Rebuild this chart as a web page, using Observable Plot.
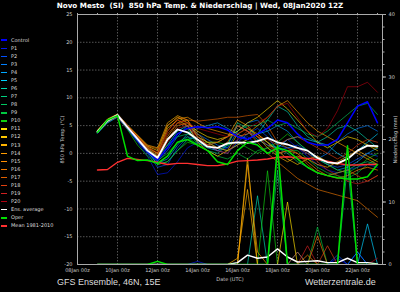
<!DOCTYPE html>
<html><head><meta charset="utf-8">
<script src="https://cdn.jsdelivr.net/npm/d3@7"></script>
<script src="https://cdn.jsdelivr.net/npm/@observablehq/plot@0.6"></script>
<style>
html,body{margin:0;padding:0;background:#000;}
#wrap{position:relative;width:400px;height:292px;background:#000;overflow:hidden;font-family:"DejaVu Sans",sans-serif;}
#chart{position:absolute;left:0;top:0;}
#title{position:absolute;left:0;width:400px;top:1.5px;line-height:8px;text-align:center;color:#fff;font-weight:bold;font-size:7.2px;white-space:pre;}
.li{position:absolute;left:1px;height:8px;line-height:8px;font-size:5px;color:#ddd;white-space:nowrap;}
.li span{display:inline-block;width:6px;height:1.4px;vertical-align:middle;margin-right:4px;}
.foot{position:absolute;top:277px;line-height:10px;font-family:"Liberation Sans",Arial,sans-serif;font-size:9px;color:#ddd;white-space:nowrap;}
</style></head>
<body>
<div id="wrap">
  <div id="chart"></div>
  <div id="title">Novo Mesto  (SI)  850 hPa Temp. &amp; Niederschlag | Wed, 08Jan2020 12Z</div>
  <div id="legend"></div>
  <div class="foot" style="left:57px">GFS Ensemble, 46N, 15E</div>
  <div class="foot" style="left:305px">Wetterzentrale.de</div>
</div>
<script>
// ---- data (12-hourly, 08Jan 18z .. 23Jan 06z) ----
const memberNames = ["Control","P1","P2","P3","P4","P5","P6","P7","P8","P9","P10",
  "P11","P12","P13","P14","P15","P16","P17","P18","P19","P20"];
const memberColors = ["#0000ff","#0018f0","#0050ff","#0080ff","#00a8ff","#00d0ff","#00d8b0","#00d080","#00c860","#00c840","#10d010",
  "#ffe000","#ffc800","#ffb400","#ff9c00","#ff8c00","#f07800","#e06000","#e04010","#d02020","#b00010"];
const extraNames = ["Ens. average","Oper","Mean 1981-2010"];
const extraColors = ["#ffffff","#00e000","#ff3030"];

const memberTemp = [
 [3.9,5.9,6.9,4.7,2.5,0.3,-1.2,1.0,3.5,4.5, 4.8,4.6,4.8,4.2,3.0,2.5,3.5,4.5,6.0,5.5, 3.5,2.0,1.5,1.5,2.5,5.5,8.5,9.3,5.5,2.0],
 [3.7,5.6,6.6,4.4,2.0,-0.5,-3.8,-3.5,-1.5,1.0, 2.0,1.5,0.5,1.0,2.5,3.0,1.5,0.0,1.0,2.5, 1.0,-0.5,-2.0,-3.0,-3.5,-3.0,-2.5,-2.0,-2.5,-3.0],
 [3.8,5.7,6.7,4.5,2.2,0.0,-2.5,-2.0,1.0,3.0, 2.5,1.5,0.5,0.0,2.0,3.5,4.5,3.0,0.5,1.0, 1.5,0.5,-1.0,-2.0,-2.5,-2.0,-1.0,0.0,-0.5,-1.0],
 [4.0,5.9,6.8,4.6,2.6,0.5,-1.5,0.5,3.0,5.0, 3.5,2.5,1.5,1.0,4.0,5.5,6.0,4.0,1.5,1.0, 1.0,0.0,-1.0,0.0,2.0,3.5,4.5,5.0,4.0,2.5],
 [3.6,5.5,6.5,4.3,2.3,0.2,-1.8,-1.0,1.5,3.5, 4.5,5.0,5.5,4.5,3.5,2.5,3.5,4.0,5.0,4.0, 2.0,0.5,-1.0,-2.0,-3.0,-2.5,-1.5,0.0,1.0,0.5],
 [3.9,5.8,6.9,4.8,2.9,0.9,-0.8,1.5,4.0,5.0, 2.0,1.0,0.5,1.5,5.0,4.0,2.5,1.5,1.0,2.5, 3.0,2.5,2.0,1.5,0.0,-1.0,0.5,2.0,3.5,2.0],
 [3.7,5.6,6.6,4.5,2.5,0.4,-2.0,-1.5,0.5,2.5, 3.0,2.0,1.0,0.5,1.5,2.5,3.5,6.0,8.5,7.5, 5.0,3.0,2.0,3.0,4.5,5.0,4.0,2.5,1.0,0.0],
 [3.8,5.7,6.8,4.6,2.4,0.2,-1.0,1.0,3.5,4.5, 1.5,0.5,0.0,1.5,5.5,4.5,3.0,2.0,1.0,0.0, -1.5,-2.5,-3.5,-4.0,-3.5,-3.0,-2.0,-1.5,-2.0,-2.5],
 [4.0,6.0,7.0,4.9,3.0,1.0,-0.5,1.5,3.0,3.5, 2.5,1.5,2.0,3.0,4.0,5.0,5.0,6.0,5.0,5.5, 4.5,3.5,3.0,4.0,5.5,7.0,8.5,9.0,7.0,4.0],
 [3.8,5.8,6.8,4.7,2.7,0.7,-1.3,0.0,2.0,3.0, 1.5,0.5,-0.5,-1.0,0.0,-1.0,0.5,1.0,0.0,0.5, 0.5,-1.0,-2.5,-3.5,-4.0,-4.5,-3.5,-2.0,-1.0,-1.5],
 [3.9,5.9,6.9,4.3,1.5,-0.5,-2.0,-1.5,0.5,2.0, 1.5,2.0,2.0,1.5,2.0,1.0,0.0,1.0,2.0,3.5, 2.0,0.5,-1.0,-2.0,-3.0,-3.5,-2.5,-1.0,0.0,1.0],
 [4.1,6.1,7.0,5.0,3.2,1.3,0.5,5.0,6.5,5.5, 4.0,3.0,2.5,3.0,4.0,5.5,6.5,8.0,9.5,8.0, 6.0,4.0,2.0,1.0,2.0,3.0,2.5,1.5,0.5,-0.5],
 [4.0,6.0,7.0,4.9,3.1,1.2,0.0,4.5,6.0,5.0, 2.0,0.5,-0.5,0.5,3.5,4.5,3.5,2.0,0.5,-1.0, -2.0,-1.0,-0.5,-1.5,-2.0,-1.0,0.5,1.5,1.0,0.0],
 [4.2,6.2,7.1,5.1,3.3,1.5,1.0,5.5,6.8,6.0, 3.0,2.0,2.0,3.0,6.0,5.0,3.0,1.0,-0.5,-1.5, -0.5,-1.0,-2.0,-2.5,-1.5,-0.5,0.5,-0.5,-1.5,-2.0],
 [4.0,6.0,6.9,4.8,3.0,1.0,0.0,4.0,6.2,6.5, 5.5,4.5,4.0,3.5,3.0,3.5,5.0,6.5,8.5,9.5, 7.5,5.5,4.0,3.0,2.0,1.0,0.0,-1.0,-2.0,-1.5],
 [3.9,5.9,6.8,4.7,2.8,0.8,-0.5,3.0,5.5,6.0, 3.5,2.0,1.0,0.5,1.5,2.5,3.5,2.0,0.0,0.5, 0.0,-1.5,-3.0,-4.0,-4.5,-4.0,-3.0,-2.5,-3.0,-3.5],
 [3.8,5.8,6.7,4.6,2.7,0.6,-0.8,2.5,5.0,5.5, 3.0,1.5,1.0,2.0,5.0,4.0,2.0,0.0,-1.5,-3.0, -4.5,-5.5,-6.5,-7.0,-7.5,-8.0,-8.5,-10.0,-11.5,-12.5],
 [4.1,6.1,7.0,5.0,3.2,1.4,0.8,5.0,6.5,6.0, 5.8,6.0,6.2,6.5,6.5,6.8,7.0,5.0,2.0,1.0, 0.0,-2.0,-3.5,-4.0,-3.5,-3.0,-4.0,-5.0,-4.0,-3.0],
 [3.9,5.9,6.8,4.8,2.9,0.9,-0.3,3.5,5.5,5.0, 2.5,1.5,2.0,3.0,5.0,4.0,3.0,2.5,1.5,2.5, 3.0,2.0,1.0,0.0,-1.0,0.0,1.5,2.5,2.0,1.0],
 [3.7,5.7,6.6,4.5,2.5,0.5,-1.0,2.0,4.5,5.0, 3.0,1.5,0.5,0.0,2.5,4.0,3.0,1.5,0.0,0.5, 1.0,0.0,-1.5,-3.0,-4.0,-5.0,-5.5,-5.0,-4.0,-3.0],
 [4.0,6.0,6.9,4.9,3.0,1.1,0.2,4.0,6.0,5.5, 4.5,4.0,3.5,3.0,3.5,4.5,5.5,6.5,8.5,9.0, 6.5,4.0,3.0,4.5,7.7,12.0,12.0,12.8,11.0,7.0]
];
const memberPrecip = [
 [0,0,0,0,0,0,0,0,0,0, 0,0,0,0,0,0,0,0,0,0, 0,0,0,0,1,0,2,0,0,0],
 [0,0,0,0,0,0,0,0,0,0, 0.5,0,0,0,0,0,0,0,0,0, 0,0,0,0,0,0,0,0,0,0],
 [0,0,0,0,0,0,0,0,0,0, 0,0,0,0,0,0,0,0,0,0, 0,0,0,0,1.5,0,0,0,0,0],
 [0,0,0,0,0,0,0,0,0,0, 0,0,0,0,0,0,0,0,0,0, 2,0,0,0,0,0,0,0,0,0],
 [0,0,0,0,0,0,0,0,0,0, 0,0,0,0,0,0,0,0,0,0, 0,0,0,0,0,0,2,0,0,0],
 [0,0,0,0,0,0,0,0,0,0, 0,0,0,0,0,0,0,0,0,0, 0,0,0,0,0,0,0,6.5,0,0],
 [0,0,0,0,0,0,0,0,0,0, 0,0,0,0,0,0,11,0,0,0, 0,0,0,0,0,0,0,0,0,0],
 [0,0,0,0,0,0,0,0,0,0, 0,0,0,0,0,0,0,0,0,0, 0,0,0,0,0,16,0,0,0,0],
 [0,0,0,0,0,0,0,0,0,0, 0,0,0,0,0,0,0,0,15,0, 0,0,0,0,0,0,0,0,0,0],
 [0,0,0,0,0,0,0,0,0,0, 0,0,0,0,0,0,0,0,18,0, 0,0,6,0,0,0,0,0,0,0],
 [0,0,0,0,0,0,0,0,0,0, 0,0,0,0,0,0,0,15,0,0, 0,0,0,0,0,0,0,0,0,0],
 [0,0,0,0,0,0,0,0,0,0, 0,0,0,0,0,0,0,0,0,10, 0,0,0,0,0,0,0,0,0,0],
 [0,0,0,0,0,0,0,0,0,0, 0,0,0,0,0,17,0,0,0,0, 0,0,0,0,0,0,0,0,0,0],
 [0,0,0,0,0,0,0,0,0,0, 0,0,0,0,1,12,0,0,0,0, 0,0,0,0,0,0,0,0,0,0],
 [0,0,0,0,0,0,0,0,0,0, 0,0,0,0,0,16,2,0,0,0, 0,0,0,0,0,0,0,0,0,0],
 [0,0,0,0,0,0,0,0,0,0, 0,0,0,0,0,0,0,0,0,0, 0,1.5,0,0,0,0,0,0,0,0],
 [0,0,0,0,0,0,0,0,0,0, 0,0,0,0,0,0,0,0,0,0, 0,0,4.6,0,0,0,0,0,0,0],
 [0,0,0,0,0,0,0,0,0,0, 0,0,0,0,0,0,0,0,0,0, 2,0,0,0,0,0,0,0,0,0],
 [0,0,0,0,0,0,0,0,0,0, 0,0,0,0,0,0,0,0,0,0, 0,0,0,3,0,0,0,0,0,0],
 [0,0,0,0,0,0,0,0,0,0, 0,0,0,0,0,0,0,0,0,0, 0,3,0,0,0,0,0,0,0,0],
 [0,0,0,0,0,0,0,0,0,0, 0,0,0,0,0,0,0,0,0,0, 0,0,0,0,0,0,0,0,1,0]
];
const operTemp   = [3.8,6.0,6.8,-0.5,-1.3,-1.2,-1.8,-0.5,2.0,2.5, 1.5,0.5,-1.5,-2.0,0.5,2.0,1.5,0.0,1.0,0.5, -1.0,-2.5,-3.5,-4.0,-4.4,-4.6,-4.6,-4.2,-2.0,0.0];
const operPrecip = [0,0,0,0,0,0,0.5,0,0,0, 0,0,0,0,0,0,0,0,19,0, 0,0,0,0,0,19,0,0,0,0];
const ensAvgTemp   = [3.9,5.9,6.9,4.7,2.6,0.5,-0.8,2.5,4.3,3.8, 2.5,1.2,1.0,1.8,2.0,1.9,2.2,2.8,2.0,1.6, 1.0,0.5,-0.8,-1.6,-1.8,-1.0,0.5,1.4,1.3,0.5];
const ensAvgPrecip = [0,0,0,0,0,0,0,0,0,0, 0,0,0,0,0.3,1.5,1.0,1.2,2.5,1.2, 0.4,0.5,0.6,0.3,0.3,1.0,0.3,0.3,0.1,0];
const climTemp = [-3.0,-2.9,-1.6,-0.9,-1.1,-1.3,-1.6,-2.0,-1.8,-1.8, -2.0,-2.2,-2.2,-1.9,-1.4,-1.3,-1.2,-1.0,-0.7,-0.6, -0.8,-0.9,-1.1,-1.4,-1.8,-2.1,-2.1,-2.0,-2.0,-1.9];

const tempTicks = [-20,-15,-10,-5,0,5,10,15,20,25];
const mmTicks = [0,10,20,30,40];
const mmMinor = [0,2,4,6,8,10,12,14,16,18,20,22,24,26,28,30,32,34,36,38,40];
const dateTicks = ["2020-01-08","2020-01-10","2020-01-12","2020-01-14","2020-01-16","2020-01-18","2020-01-20","2020-01-22"].map(s => new Date(s + "T00:00Z"));
const dayTicks = d3.utcDay.range(new Date("2020-01-08T00:00Z"), new Date("2020-01-23T12:00Z"));

// ---- helpers ----
const times = d3.utcHour.every(12).range(new Date(Date.UTC(2020,0,8,18)), new Date(Date.UTC(2020,0,23,7)));
const mm2t = mm => -20 + mm * 45 / 40;          // right axis (0..40 mm) onto temp scale (-20..25)
const t2mm = t => Math.round((t + 20) * 40 / 45);
const rows = (name, vals) => vals.map((v, i) => ({s: name, t: times[i], v}));
const blank = () => "";

const memberT = memberNames.slice(1).flatMap((n, k) => rows(n, memberTemp[k + 1]));
const memberP = memberNames.flatMap((n, k) => rows(n, memberPrecip[k].map(mm2t)));
const controlT = rows("Control", memberTemp[0]);
const operT = rows("Oper", operTemp), operP = rows("Oper", operPrecip.map(mm2t));
const avgT = rows("Ens. average", ensAvgTemp), avgP = rows("Ens. average", ensAvgPrecip.map(mm2t));
const climT = rows("Mean 1981-2010", climTemp);

const allNames = memberNames.concat(extraNames);
const allColors = memberColors.concat(extraColors);

const chart = Plot.plot({
  width: 400, height: 292,
  marginLeft: 77, marginRight: 18, marginTop: 14, marginBottom: 28,
  style: {background: "#000", color: "#ccc", fontFamily: "DejaVu Sans, sans-serif", fontSize: "5px"},
  x: {type: "utc", domain: [new Date("2020-01-08T00:00Z"), new Date("2020-01-23T06:00Z")]},
  y: {domain: [-20, 25]},
  color: {domain: allNames, range: allColors},
  marks: [
    Plot.gridY({ticks: tempTicks, stroke: "#555", strokeOpacity: 1, strokeDasharray: "1.5,1.5"}),
    Plot.gridX({ticks: dateTicks, stroke: "#555", strokeOpacity: 1, strokeDasharray: "1.5,1.5"}),
    Plot.line(memberP, {x: "t", y: "v", z: "s", stroke: "s", strokeWidth: 0.8, strokeOpacity: 0.85, clip: true}),
    Plot.line(memberT, {x: "t", y: "v", z: "s", stroke: "s", strokeWidth: 0.8, strokeOpacity: 0.8, clip: true}),
    Plot.line(controlT, {x: "t", y: "v", stroke: "s", strokeWidth: 1.5, clip: true}),
    Plot.line(climT, {x: "t", y: "v", stroke: "s", strokeWidth: 1.4, clip: true}),
    Plot.line(avgP, {x: "t", y: "v", stroke: "s", strokeWidth: 1.4, clip: true}),
    Plot.line(avgT, {x: "t", y: "v", stroke: "s", strokeWidth: 1.8, clip: true}),
    Plot.line(operT, {x: "t", y: "v", stroke: "s", strokeWidth: 1.5, clip: true}),
    Plot.line(operP, {x: "t", y: "v", stroke: "s", strokeWidth: 1.5, clip: true}),
    Plot.frame({stroke: "#aaa", strokeWidth: 1}),
    Plot.axisY({ticks: tempTicks, tickSize: 0, tickPadding: 5, tickFormat: d => String(d), fontSize: 5, fill: "#ccc",
      label: "850 hPa Temp. (°C)", labelAnchor: "center", labelArrow: "none", labelOffset: 17}),
    Plot.axisY({anchor: "right", ticks: mmTicks.map(mm2t), tickSize: 3, tickPadding: 3, tickFormat: t => String(t2mm(t)), fontSize: 5, fill: "#ccc", stroke: "#aaa",
      label: "Niederschlag (mm)", labelAnchor: "center", labelArrow: "none", labelOffset: 14}),
    Plot.axisY({anchor: "right", ticks: mmMinor.map(mm2t), tickSize: 1.5, tickFormat: blank, stroke: "#aaa", label: null}),
    Plot.axisX({ticks: dateTicks, tickSize: 0, tickPadding: 4, tickFormat: d3.utcFormat("%d%b %Hz"), fontSize: 5, fill: "#ccc",
      label: "Date (UTC)", labelAnchor: "center", labelArrow: "none", labelOffset: 16}),
    Plot.axisX({anchor: "top", ticks: dayTicks, tickSize: 2, tickFormat: blank, stroke: "#aaa", label: null})
  ]
});
document.getElementById("chart").appendChild(chart);

// ---- legend ----
const leg = document.getElementById("legend");
allNames.forEach((n, k) => {
  const d = document.createElement("div");
  d.className = "li";
  d.style.top = (39.5 + k * 8.08 - 4) + "px";
  const sw = document.createElement("span");
  sw.style.background = allColors[k];
  d.appendChild(sw);
  d.appendChild(document.createTextNode(n));
  leg.appendChild(d);
});
</script>
</body></html>
